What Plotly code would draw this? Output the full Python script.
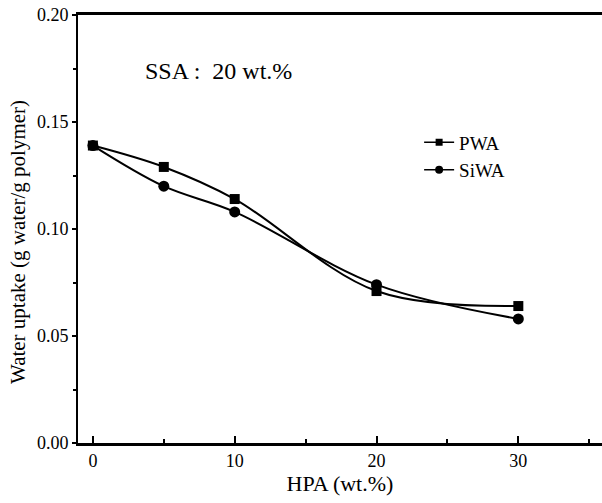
import plotly.graph_objects as go

hpa = [0, 5, 10, 20, 30]
pwa = [0.139, 0.129, 0.114, 0.071, 0.064]
siwa = [0.139, 0.120, 0.108, 0.074, 0.058]
series_names = ["PWA", "SiWA"]
x_ticks = [0, 10, 20, 30]
y_ticks = [0.00, 0.05, 0.10, 0.15, 0.20]

FONT = "Liberation Serif"

fig = go.Figure()
# data traces
fig.add_trace(go.Scatter(
    x=hpa, y=pwa, name=series_names[0], mode="lines+markers", showlegend=False,
    line=dict(color="black", width=2, shape="spline", smoothing=1.0),
    marker=dict(symbol="square", size=10, color="black"),
))
fig.add_trace(go.Scatter(
    x=hpa, y=siwa, name=series_names[1], mode="lines+markers", showlegend=False,
    line=dict(color="black", width=2, shape="spline", smoothing=1.0),
    marker=dict(symbol="circle", size=11, color="black"),
))
# legend entries (smaller symbols, as in the original key)
fig.add_trace(go.Scatter(
    x=[None], y=[None], name=series_names[0], mode="lines+markers",
    line=dict(color="black", width=1.5), marker=dict(symbol="square", size=7, color="black"),
))
fig.add_trace(go.Scatter(
    x=[None], y=[None], name=series_names[1], mode="lines+markers",
    line=dict(color="black", width=1.5), marker=dict(symbol="circle", size=8, color="black"),
))

fig.add_annotation(
    text="SSA :  20 wt.%", x=(143 - 78) / 524, y=(443 - 71) / 428, xref="paper", yref="paper",
    xanchor="left", yanchor="middle", showarrow=False,
    font=dict(family=FONT, size=24, color="black"),
)
# y-axis title, placed as in the original (slightly below the plot centre)
fig.add_annotation(
    text="Water uptake (g water/g polymer)", textangle=-90,
    x=(18 - 78) / 524, y=(443 - 242) / 428, xref="paper", yref="paper",
    xanchor="center", yanchor="middle", showarrow=False,
    font=dict(family=FONT, size=21, color="black"),
)

fig.update_layout(
    width=602, height=503,
    margin=dict(l=78, r=0, t=15, b=60),
    paper_bgcolor="white", plot_bgcolor="white",
    font=dict(family=FONT, size=18, color="black"),
    showlegend=True,
    legend=dict(
        x=0.651, y=0.747, xanchor="left", yanchor="top",
        bgcolor="rgba(0,0,0,0)", font=dict(family=FONT, size=19, color="black"),
        tracegroupgap=0, itemwidth=30,
    ),
    xaxis=dict(
        range=[-1.05, 35.9], tickvals=x_ticks, ticktext=[str(v) for v in x_ticks],
        ticks="inside", ticklen=7, tickwidth=2, tickcolor="black",
        minor=dict(dtick=5, tick0=0, ticks="inside", ticklen=4, tickwidth=1.5, tickcolor="black"),
        showline=True, linecolor="black", linewidth=2.5, mirror=True,
        showgrid=False, zeroline=False,
        tickfont=dict(family=FONT, size=18, color="black"),
        title=dict(text="HPA (wt.%)", font=dict(family=FONT, size=22, color="black"), standoff=6),
    ),
    yaxis=dict(
        range=[0, 0.2], tickvals=y_ticks, tickformat=".2f",
        ticks="outside", ticklen=4, tickwidth=1.5, tickcolor="black",
        minor=dict(dtick=0.025, tick0=0, ticks="outside", ticklen=3, tickwidth=1.5, tickcolor="black"),
        showline=True, linecolor="black", linewidth=2,
        showgrid=False, zeroline=False,
        tickfont=dict(family=FONT, size=18, color="black"),
    ),
)

fig.write_html("out.html")
